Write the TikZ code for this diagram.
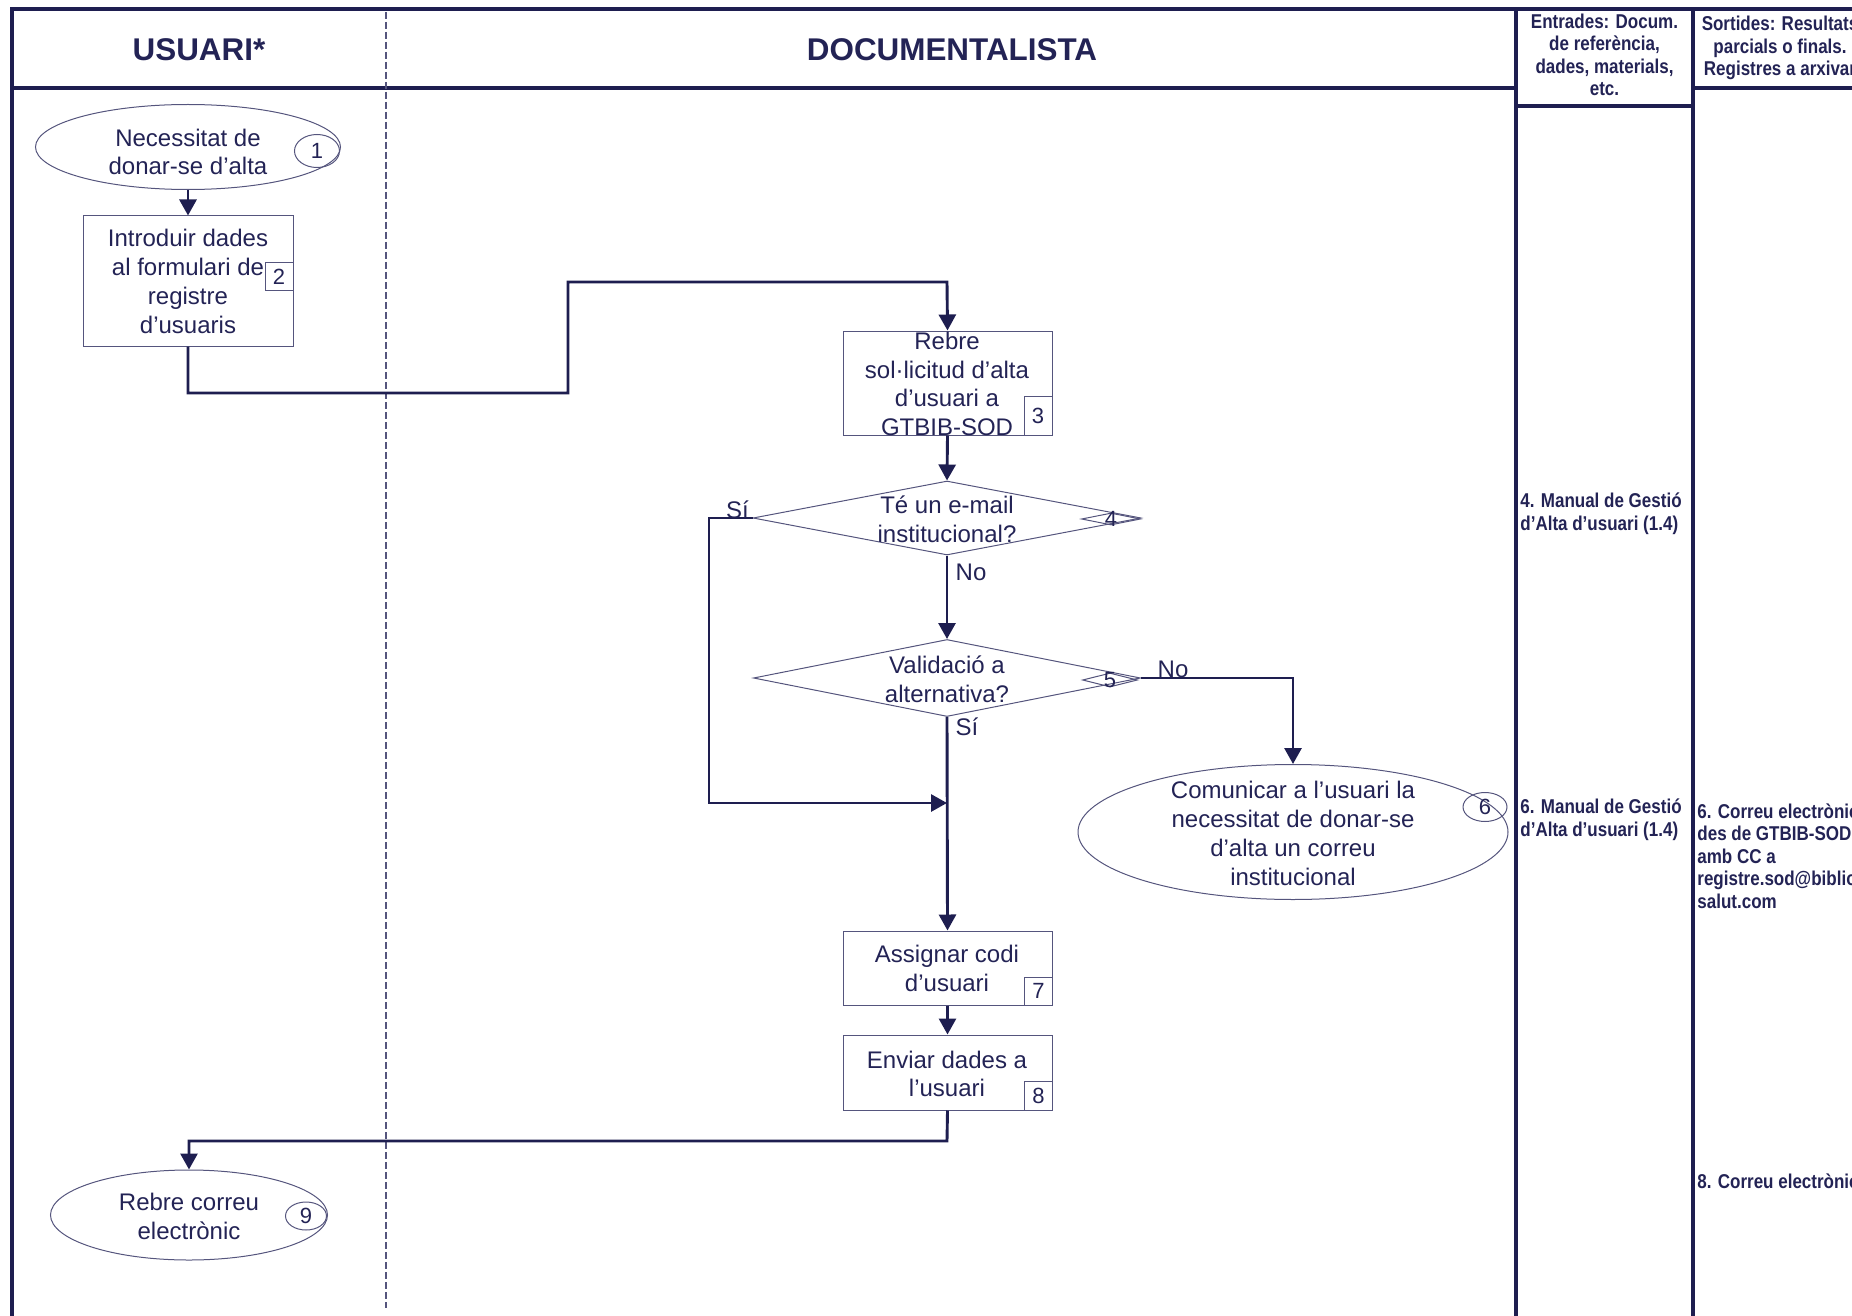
\documentclass[tikz,border=0pt]{standalone}
\usepackage{fontspec}
\setmainfont{Liberation Sans}
\newfontfamily\narrowfont[FakeStretch=0.85]{Liberation Sans}
\usetikzlibrary{shapes.geometric,arrows.meta}
\definecolor{framec}{RGB}{30,30,80}
\definecolor{ink}{RGB}{35,35,85}
\definecolor{edgec}{RGB}{85,85,125}
\begin{document}
\begin{tikzpicture}[x=0.5pt,y=-0.5pt,
  every node/.style={text=ink, font=\fontsize{12}{14.4}\selectfont},
  frameline/.style={draw=framec, line width=1.6pt},
  laneline/.style={draw=edgec, line width=0.6pt, dash pattern=on 3.5pt off 1.5pt},
  shapebox/.style={draw=edgec, line width=0.5pt, rectangle, inner sep=0pt},
  oval/.style={draw=edgec, line width=0.5pt, ellipse, inner sep=0pt},
  decision/.style={draw=edgec, line width=0.5pt, diamond, inner sep=0pt},
  txt/.style={align=center, inner sep=0pt},
  numtxt/.style={font=\fontsize{11}{13}\selectfont},
  flow/.style={draw=framec, line width=1.45pt, -{Triangle[length=8pt,width=8.5pt]}},
  coltxt/.style={font=\narrowfont\bfseries\fontsize{10}{11.25}\selectfont, align=left, inner sep=0pt, anchor=base west},
  head/.style={font=\bfseries\fontsize{15.7}{18}\selectfont, inner sep=0pt},
  colhead/.style={font=\narrowfont\bfseries\fontsize{10}{11.25}\selectfont, align=center, inner sep=0pt},
  lbl/.style={inner sep=0pt}
]
\useasboundingbox (0,0) rectangle (1852,1316);

% frame
\draw[frameline] (12,1340) -- (12,9) -- (1880,9);
\draw[frameline] (12,88) -- (1516,88);
\draw[frameline] (1693,88) -- (1880,88);
\draw[frameline] (1516,9) -- (1516,1340);
\draw[frameline] (1693,9) -- (1693,1340);
\draw[frameline] (1516,106) -- (1693,106);
\draw[frameline] (1868,9) -- (1868,1340);
\draw[laneline] (386,12) -- (386,1308);

% headers
\node[head] (hu) at (199,50) {USUARI*};
\node[head] (hd) at (952,50) {DOCUMENTALISTA};
\node[colhead] (he) at (1604.5,55) {Entrades: Docum.\\de referència,\\dades, materials,\\etc.};
\node[colhead] (hs) at (1780,48) {Sortides: Resultats\\parcials o finals.\\Registres a arxivar};

% column texts (base = baseline of last line)
\node[coltxt] (c4) at (1520,530) {4. Manual de Gestió\\d’Alta d’usuari (1.4)};
\node[coltxt] (c6) at (1520,836) {6. Manual de Gestió\\d’Alta d’usuari (1.4)};
\node[coltxt] (s6) at (1697,908) {6. Correu electrònic\\des de GTBIB-SOD\\amb CC a\\registre.sod@biblio\\salut.com};
\node[coltxt] (s8) at (1697,1188) {8. Correu electrònic};

% step 1
\node[oval, minimum width=152.5pt, minimum height=42.5pt] (e1) at (188,147) {};
\node[txt] (t1) at (188,152) {Necessitat de\\donar-se d’alta};
\node[oval, numtxt, minimum width=22.5pt, minimum height=16.5pt] (n1) at (317,151) {1};

% step 2
\node[shapebox, minimum width=105pt, minimum height=65pt] (b2) at (188,281) {};
\node[txt] (t2) at (188,281.5) {Introduir dades\\al formulari de\\registre\\d’usuaris};
\node[shapebox, numtxt, minimum width=14pt, minimum height=14pt] (n2) at (279,277) {2};

% step 3
\node[shapebox, minimum width=104.5pt, minimum height=52pt] (b3) at (947.5,383) {};
\node[txt] (t3) at (947,384) {Rebre\\sol·licitud d’alta\\d’usuari a\\GTBIB-SOD};
\node[shapebox, numtxt, minimum width=14pt, minimum height=19.5pt] (n3) at (1038,415.5) {3};

% decision 4
\node[decision, minimum width=194pt, minimum height=37pt] (d4) at (947,518) {};
\node[txt] (t4) at (947,519) {Té un e-mail\\institucional?};
\node[decision, minimum width=29.5pt, minimum height=6pt] (n4) at (1111,519) {};
\node[numtxt, inner sep=0pt] (n4t) at (1111,519) {4};

% decision 5
\node[decision, minimum width=193.5pt, minimum height=38.5pt] (d5) at (947,678) {};
\node[txt] (t5) at (947,679) {Validació a\\alternativa?};
\node[decision, minimum width=27.5pt, minimum height=7pt] (n5) at (1110,680) {};
\node[numtxt, inner sep=0pt] (n5t) at (1110,680) {5};

% step 6
\node[oval, minimum width=215pt, minimum height=67.5pt] (e6) at (1293,832) {};
\node[txt] (t6) at (1293,833.5) {Comunicar a l’usuari la\\necessitat de donar-se\\d’alta un correu\\institucional};
\node[oval, numtxt, minimum width=22pt, minimum height=14.5pt] (n6) at (1485,807) {6};

% step 7
\node[shapebox, minimum width=104.5pt, minimum height=37pt] (b7) at (947.5,968) {};
\node[txt] (t7) at (947,968.5) {Assignar codi\\d’usuari};
\node[shapebox, numtxt, minimum width=14pt, minimum height=14pt] (n7) at (1038.5,991) {7};

% step 8
\node[shapebox, minimum width=104.5pt, minimum height=37.5pt] (b8) at (947.5,1072.5) {};
\node[txt] (t8) at (947,1074) {Enviar dades a\\l’usuari};
\node[shapebox, numtxt, minimum width=14pt, minimum height=14.5pt] (n8) at (1038.5,1095.5) {8};

% step 9
\node[oval, minimum width=138.5pt, minimum height=45pt] (e9) at (189,1215) {};
\node[txt] (t9) at (189,1216.5) {Rebre correu\\electrònic};
\node[oval, numtxt, minimum width=20.5pt, minimum height=14pt] (n9) at (306,1216) {9};

% coordinates
\coordinate (m) at (947,803);

% connectors
\draw[flow] (e1.south) -- (b2.north);
\draw[flow] (b2.south) -- (188,393) -- (568,393) -- (568,282) -- (947,282) -- (b3.north);
\draw[flow] (b3.south) -- (d4.north);
\draw[flow] (d4.west) -- (709,518) -- (709,803) -- (m);
\draw[flow] (d4.south) -- (d5.north);
\draw[flow] (d5.east) -- (1293,678) -- (e6.north);
\draw[flow] (d5.south) -- (b7.north);
\draw[flow] (b7.south) -- (b8.north);
\draw[flow] (b8.south) -- (947,1141) -- (189,1141) -- (e9.north);

% labels
\node[lbl, anchor=base] (ls1) at (737.5,518) {Sí};
\node[lbl] (ln1) at (971,572) {No};
\node[lbl, anchor=base] (ln2) at (1173,677) {No};
\node[lbl] (ls2) at (967,727) {Sí};
\end{tikzpicture}
\end{document}
